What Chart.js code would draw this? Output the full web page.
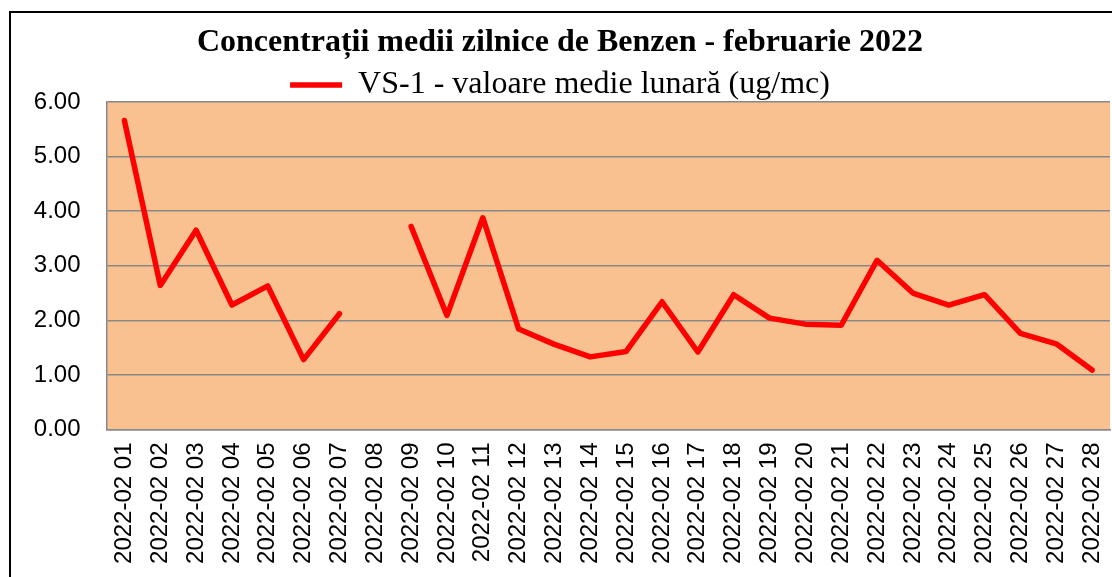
<!DOCTYPE html>
<html>
<head>
<meta charset="utf-8">
<script src="https://cdn.jsdelivr.net/npm/chart.js@4"></script>
<style>
  html, body { margin: 0; padding: 0; background: #fff; }
  #wrap { position: relative; width: 1112px; height: 577px; overflow: hidden; }
  #frame { position: absolute; left: 9px; top: 11px; width: 1300px; height: 800px; border: 2px solid #000; box-sizing: border-box; }
  canvas { position: absolute; left: 0; top: 0; }
</style>
</head>
<body>
<div id="wrap">
  <div id="frame"></div>
  <canvas id="c" width="1112" height="577"></canvas>
</div>
<script>
const chartTitle = 'Concentrații medii zilnice de Benzen - februarie 2022';
const seriesName = 'VS-1 - valoare medie lunară (ug/mc)';
const categories = ['2022-02 01','2022-02 02','2022-02 03','2022-02 04','2022-02 05','2022-02 06','2022-02 07',
  '2022-02 08','2022-02 09','2022-02 10','2022-02 11','2022-02 12','2022-02 13','2022-02 14',
  '2022-02 15','2022-02 16','2022-02 17','2022-02 18','2022-02 19','2022-02 20','2022-02 21',
  '2022-02 22','2022-02 23','2022-02 24','2022-02 25','2022-02 26','2022-02 27','2022-02 28'];
const benzenValues = [5.66, 2.64, 3.65, 2.28, 2.63, 1.28, 2.12,
  null, 3.72, 2.09, 3.88, 1.84, 1.56, 1.33,
  1.43, 2.34, 1.42, 2.47, 2.04, 1.93, 1.91,
  3.10, 2.50, 2.28, 2.47, 1.76, 1.57, 1.09];
const yTickLabels = ['0.00','1.00','2.00','3.00','4.00','5.00','6.00'];

const plotBg = {
  id: 'plotBg',
  beforeDraw(chart) {
    const a = chart.chartArea, ctx = chart.ctx;
    ctx.save();
    ctx.fillStyle = '#F9C090';
    ctx.fillRect(a.left, a.top, a.right - a.left, a.bottom - a.top);
    ctx.restore();
  }
};

new Chart(document.getElementById('c'), {
  type: 'line',
  data: {
    labels: categories,
    datasets: [{
      label: seriesName,
      data: benzenValues,
      borderColor: '#FF0000',
      backgroundColor: '#FF0000',
      borderWidth: 5.5,
      borderCapStyle: 'round',
      borderJoinStyle: 'round',
      pointRadius: 0,
      tension: 0,
      spanGaps: false
    }]
  },
  options: {
    responsive: false,
    animation: false,
    layout: { padding: { left: 10, right: 2, top: 0, bottom: 0 } },
    plugins: {
      title: {
        display: true,
        text: chartTitle,
        color: '#000',
        font: { family: '"Liberation Serif", "Times New Roman", serif', size: 32, weight: 'bold', lineHeight: 1.2 },
        padding: { top: 24, bottom: 0 }
      },
      legend: {
        display: true,
        position: 'top',
        maxHeight: 39.6,
        labels: {
          color: '#000',
          font: { family: '"Liberation Serif", "Times New Roman", serif', size: 32 },
          usePointStyle: true,
          pointStyle: 'line',
          pointStyleWidth: 52,
          padding: 6.6
        }
      },
      tooltip: { enabled: false }
    },
    scales: {
      x: {
        type: 'category',
        offset: true,
        afterFit(s) { s.height = 147.5; s.paddingLeft = 0; s.paddingRight = 0; },
        grid: { display: false, drawTicks: false },
        border: { display: true, color: '#8a8a8a', width: 1.5 },
        ticks: {
          autoSkip: false,
          minRotation: 90,
          maxRotation: 90,
          padding: 13,
          color: '#000',
          font: { family: '"Liberation Sans", Arial, sans-serif', size: 24 }
        }
      },
      y: {
        min: 0,
        max: 6,
        afterFit(s) { s.width = 96.5; },
        grid: { color: '#888888', lineWidth: 1.5, drawTicks: false },
        border: { display: true, color: '#888888', width: 1.5 },
        ticks: {
          stepSize: 1,
          padding: 26,
          color: '#000',
          font: { family: '"Liberation Sans", Arial, sans-serif', size: 24 },
          callback: (v, i) => yTickLabels[i]
        }
      }
    }
  },
  plugins: [plotBg]
});
</script>
</body>
</html>
